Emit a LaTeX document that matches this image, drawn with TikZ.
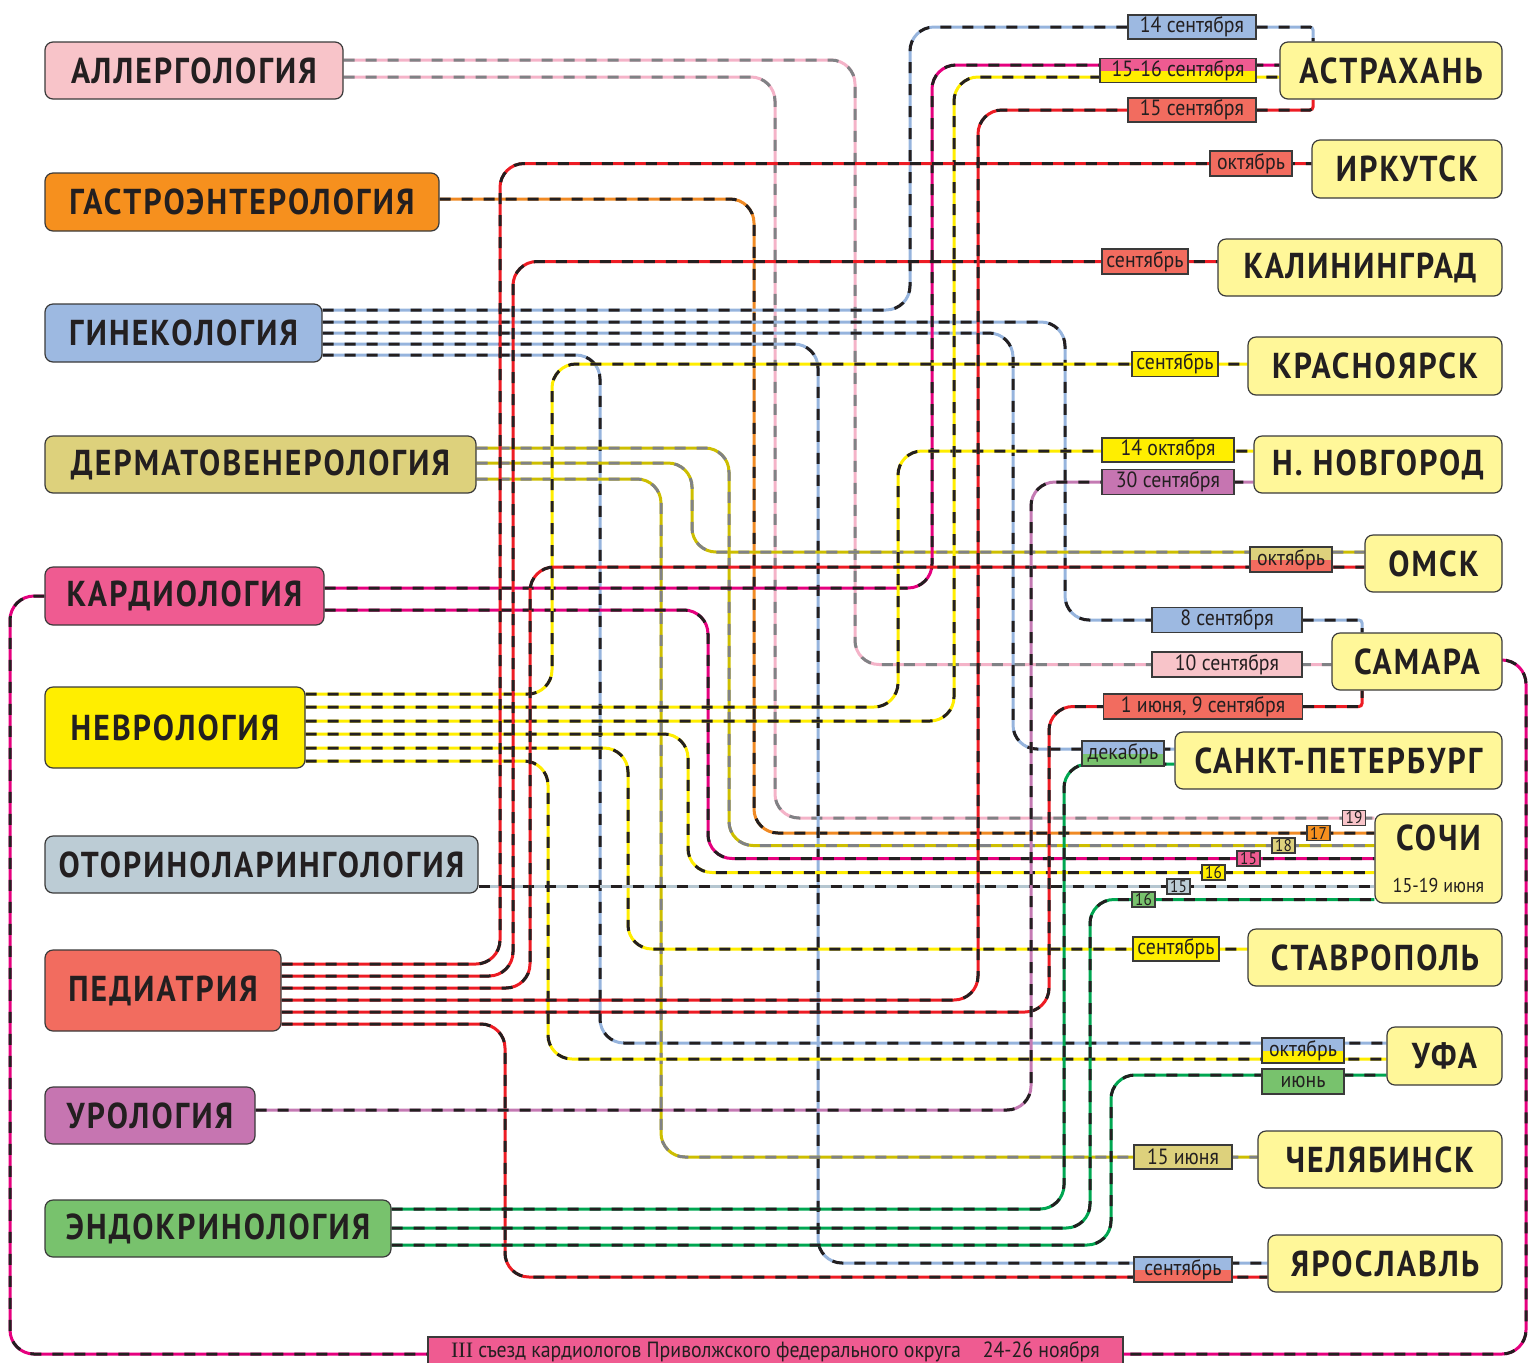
\documentclass[tikz,border=0pt]{standalone}
\usepackage{fontspec}
\setmainfont{PT Sans}
\newfontfamily\headfont[FakeStretch=0.88,LetterSpace=6]{PT Sans}
\newfontfamily\datefont[FakeStretch=0.9]{PT Sans}
\newfontfamily\romfont{Liberation Serif}

\pgfdeclarelayer{bg}
\pgfsetlayers{bg,main}

\definecolor{ink}{HTML}{231F20}
\definecolor{frame}{HTML}{3A3A3A}
\definecolor{cityc}{HTML}{FFF799}
% заливки блоков
\definecolor{cAll}{HTML}{F8C4C9}
\definecolor{cGas}{HTML}{F6901E}
\definecolor{cGyn}{HTML}{9DB9E1}
\definecolor{cDer}{HTML}{DDD17C}
\definecolor{cCar}{HTML}{EF5B91}
\definecolor{cNeu}{HTML}{FFEE00}
\definecolor{cOto}{HTML}{BCCCD5}
\definecolor{cPed}{HTML}{F26C5F}
\definecolor{cUro}{HTML}{C675B1}
\definecolor{cEnd}{HTML}{78C26D}
% цвета линий
\definecolor{lAll}{HTML}{F4B3C8}
\definecolor{lGrey}{HTML}{808285}
\definecolor{lGas}{HTML}{F08A24}
\definecolor{lGyn}{HTML}{96B4DD}
\definecolor{lDer}{HTML}{CDBE00}
\definecolor{lCar}{HTML}{E5007E}
\definecolor{lNeu}{HTML}{FFED00}
\definecolor{lOto}{HTML}{B5C6D0}
\definecolor{lPed}{HTML}{ED1C24}
\definecolor{lUro}{HTML}{C47AB3}
\definecolor{lEnd}{HTML}{00A651}

\begin{document}
\begin{tikzpicture}[x=0.5pt,y=-0.5pt,
  spec/.style={draw=frame,line width=0.6pt,rounded corners=4pt,text=ink,inner sep=0pt,
    font=\headfont\bfseries\fontsize{18}{20}\selectfont},
  city/.style={spec,fill=cityc},
  date/.style={draw=frame,line width=0.7pt,text=ink,inner sep=0pt,
    font=\datefont\fontsize{11}{12}\selectfont},
  num/.style={date,minimum width=11.5pt,minimum height=7.5pt,font=\datefont\fontsize{8.5}{9}\selectfont},
  duo/.style 2 args={path picture={
    \fill[#1] (path picture bounding box.north west) rectangle (path picture bounding box.east);
    \fill[#2] (path picture bounding box.west) rectangle (path picture bounding box.south east);}},
  rt/.style 2 args={draw=#1,line width=1.5pt,rounded corners=12pt,
    postaction={draw=#2,dash pattern=on 5.5pt off 5.5pt}}]
  \useasboundingbox (0,0) rectangle (1528,1362);

  % специальности
  \node[spec,fill=cAll,minimum width=149pt,minimum height=28.5pt] (allerg) at (194,70.5) {АЛЛЕРГОЛОГИЯ};
  \node[spec,fill=cGas,minimum width=197pt,minimum height=29pt] (gastro) at (242,202) {ГАСТРОЭНТЕРОЛОГИЯ};
  \node[spec,fill=cGyn,minimum width=138.5pt,minimum height=29pt] (gyn) at (183.5,333) {ГИНЕКОЛОГИЯ};
  \node[spec,fill=cDer,minimum width=215.5pt,minimum height=28.5pt] (derm) at (260.5,464.5) {ДЕРМАТОВЕНЕРОЛОГИЯ};
  \node[spec,fill=cCar,minimum width=139.5pt,minimum height=29pt] (card) at (184.5,596) {КАРДИОЛОГИЯ};
  \node[spec,fill=cNeu,minimum width=130pt,minimum height=40.5pt] (neuro) at (175,727.5) {НЕВРОЛОГИЯ};
  \node[spec,fill=cOto,minimum width=216.5pt,minimum height=28.5pt] (oto) at (261.5,864.5) {ОТОРИНОЛАРИНГОЛОГИЯ};
  \node[spec,fill=cPed,minimum width=118pt,minimum height=40.5pt] (ped) at (163,990.5) {ПЕДИАТРИЯ};
  \node[spec,fill=cUro,minimum width=105pt,minimum height=28.5pt] (uro) at (150,1115.5) {УРОЛОГИЯ};
  \node[spec,fill=cEnd,minimum width=173pt,minimum height=28.5pt] (endo) at (218,1228.5) {ЭНДОКРИНОЛОГИЯ};

  % города
  \node[city,minimum width=111pt,minimum height=28.5pt] (astr) at (1391,70.5) {АСТРАХАНЬ};
  \node[city,minimum width=95pt,minimum height=29pt] (irk) at (1407,169) {ИРКУТСК};
  \node[city,minimum width=142pt,minimum height=28.5pt] (kal) at (1360,267.5) {КАЛИНИНГРАД};
  \node[city,minimum width=127pt,minimum height=29pt] (kras) at (1375,366) {КРАСНОЯРСК};
  \node[city,minimum width=124pt,minimum height=28.5pt] (nov) at (1378,464.5) {Н. НОВГОРОД};
  \node[city,minimum width=68.5pt,minimum height=28.5pt] (omsk) at (1433.5,563.5) {ОМСК};
  \node[city,minimum width=85pt,minimum height=28.5pt] (sam) at (1417,661.5) {САМАРА};
  \node[city,minimum width=163.5pt,minimum height=28.5pt] (spb) at (1338.5,760.5) {САНКТ-ПЕТЕРБУРГ};
  \node[city,minimum width=63.5pt,minimum height=44.5pt,align=center] (sochi) at (1438.5,858.5)
    {СОЧИ\\[1pt]{\datefont\mdseries\fontsize{10}{12}\selectfont 15-19 июня}};
  \node[city,minimum width=127pt,minimum height=28.5pt] (stav) at (1375,957.5) {СТАВРОПОЛЬ};
  \node[city,minimum width=57.5pt,minimum height=29pt] (ufa) at (1444.5,1056) {УФА};
  \node[city,minimum width=122pt,minimum height=28.5pt] (chel) at (1380,1159.5) {ЧЕЛЯБИНСК};
  \node[city,minimum width=117pt,minimum height=28.5pt] (yar) at (1385,1263.5) {ЯРОСЛАВЛЬ};

  % даты
  \node[date,fill=cGyn,minimum width=64pt,minimum height=12pt] (d14s) at (1192,27) {14 сентября};
  \node[date,duo={cCar}{cNeu},minimum width=78pt,minimum height=12pt] (d1516) at (1178,70.5) {15-16 сентября};
  \node[date,fill=cPed,minimum width=64pt,minimum height=12pt] (d15s) at (1192,110) {15 сентября};
  \node[date,fill=cPed,minimum width=41pt,minimum height=12.5pt] (irkoct) at (1251,163.5) {октябрь};
  \node[date,fill=cPed,minimum width=43pt,minimum height=12.5pt] (kalsep) at (1145,261.5) {сентябрь};
  \node[date,fill=cNeu,minimum width=43pt,minimum height=12.5pt] (krsep) at (1175,364) {сентябрь};
  \node[date,fill=cNeu,minimum width=66pt,minimum height=12pt] (d14o) at (1168,450) {14 октября};
  \node[date,fill=cUro,minimum width=66pt,minimum height=12.5pt] (d30s) at (1168,482) {30 сентября};
  \node[date,duo={cDer}{cPed},minimum width=41pt,minimum height=12.5pt] (omoct) at (1291,559.5) {октябрь};
  \node[date,fill=cGyn,minimum width=75pt,minimum height=12.5pt] (d8s) at (1227,620) {8 сентября};
  \node[date,fill=cAll,minimum width=75pt,minimum height=12.5pt] (d10s) at (1227,664.5) {10 сентября};
  \node[date,fill=cPed,minimum width=99.5pt,minimum height=12.5pt] (d19s) at (1203,706.5) {1 июня, 9 сентября};
  \node[date,duo={cGyn}{cEnd},minimum width=41pt,minimum height=12.5pt] (dec) at (1123,753.5) {декабрь};
  \node[num,fill=cAll] (s19) at (1354,818) {19};
  \node[num,fill=cGas] (s17) at (1318.5,833) {17};
  \node[num,fill=cDer] (s18) at (1283.5,845.5) {18};
  \node[num,fill=cCar] (s15a) at (1248.5,858.5) {15};
  \node[num,fill=cNeu] (s16a) at (1213.5,872.5) {16};
  \node[num,fill=cOto] (s15b) at (1178.5,886.5) {15};
  \node[num,fill=cEnd] (s16b) at (1143.5,899.5) {16};
  \node[date,fill=cNeu,minimum width=43pt,minimum height=12pt] (stsep) at (1176,949) {сентябрь};
  \node[date,duo={cGyn}{cNeu},minimum width=41pt,minimum height=12.5pt] (ufaoct) at (1303,1050.5) {октябрь};
  \node[date,fill=cEnd,minimum width=41pt,minimum height=12.5pt] (ufajun) at (1303,1081.5) {июнь};
  \node[date,fill=cDer,minimum width=49pt,minimum height=12pt] (d15j) at (1183,1157) {15 июня};
  \node[date,duo={cGyn}{cPed},minimum width=49pt,minimum height=12.5pt] (yarsep) at (1183,1269.5) {сентябрь};
  \node[date,fill=cCar,minimum width=347.5pt,minimum height=15pt,font=\datefont\fontsize{11}{13}\selectfont] (congr) at (775.5,1352)
    {{\romfont III} съезд кардиологов Приволжского федерального округа\quad 24-26 ноября};

  \begin{pgfonlayer}{bg}
  % аллергология
  \draw[rt={lAll}{lGrey}] (allerg.east |- 0,60) -| (d10s -| 855,0) -- (sam.west |- d10s);
  \draw[rt={lAll}{lGrey}] (allerg.east |- 0,77) -| (s19 -| 775,0) -- (sochi.west |- s19);
  % гастроэнтерология
  \draw[rt={lGas}{ink}] (gastro.east |- 0,199) -| (s17 -| 754,0) -- (sochi.west |- s17);
  % гинекология
  \draw[rt={lGyn}{ink}] (gyn.east |- 0,310) -| (d14s -| 910,0) -- (d14s) [rounded corners=1.5pt] -| (astr.north -| 1313,0);
  \draw[rt={lGyn}{ink}] (gyn.east |- 0,322) -| (d8s -| 1065,0) -- (d8s) [rounded corners=1.5pt] -| (sam.north -| 1362,0);
  \draw[rt={lGyn}{ink}] (gyn.east |- 0,333) -| (1013,749) -- (spb.west |- 0,749);
  \draw[rt={lGyn}{ink}] (gyn.east |- 0,344) -| (818,1263) -- (yar.west |- 0,1263);
  \draw[rt={lGyn}{ink}] (gyn.east |- 0,355) -| (600,1043) -- (ufa.west |- 0,1043);
  % дерматовенерология
  \draw[rt={lDer}{lGrey}] (derm.east |- 0,448) -| (s18 -| 729,0) -- (sochi.west |- s18);
  \draw[rt={lDer}{lGrey}] (derm.east |- 0,463) -| (692,552) -- (omsk.west |- 0,552);
  \draw[rt={lDer}{lGrey}] (derm.east |- 0,479) -| (d15j -| 661,0) -- (chel.west |- d15j);
  % кардиология
  \draw[rt={lCar}{ink}] (card.east |- 0,588) -| (932,65) -- (astr.west |- 0,65);
  \draw[rt={lCar}{ink}] (card.east |- 0,610) -| (s15a -| 708,0) -- (sochi.west |- s15a);
  \draw[rt={lCar}{ink}] (card.west |- 0,596) -| (10,1354) -| (1526,660) -- (sam.east |- 0,660);
  % неврология
  \draw[rt={lNeu}{ink}] (neuro.east |- 0,694) -| (krsep -| 552,0) -- (kras.west |- krsep);
  \draw[rt={lNeu}{ink}] (neuro.east |- 0,707) -| (898,451) -- (nov.west |- 0,451);
  \draw[rt={lNeu}{ink}] (neuro.east |- 0,721) -| (954,77) -- (astr.west |- 0,77);
  \draw[rt={lNeu}{ink}] (neuro.east |- 0,734) -| (s16a -| 688,0) -- (sochi.west |- s16a);
  \draw[rt={lNeu}{ink}] (neuro.east |- 0,748) -| (stsep -| 628,0) -- (stav.west |- stsep);
  \draw[rt={lNeu}{ink}] (neuro.east |- 0,761) -| (548,1059) -- (ufa.west |- 0,1059);
  % оториноларингология
  \draw[rt={lOto}{ink}] (oto.east |- s15b) -- (sochi.west |- s15b);
  % педиатрия
  \draw[rt={lPed}{ink}] (ped.east |- 0,964) -| (irkoct -| 500,0) -- (irk.west |- irkoct);
  \draw[rt={lPed}{ink}] (ped.east |- 0,976) -| (kalsep -| 513,0) -- (kal.west |- kalsep);
  \draw[rt={lPed}{ink}] (ped.east |- 0,988) -| (530,567) -- (omsk.west |- 0,567);
  \draw[rt={lPed}{ink}] (ped.east |- 0,1000) -| (d15s -| 978,0) -- (d15s) [rounded corners=1.5pt] -| (astr.south -| 1313,0);
  \draw[rt={lPed}{ink}] (ped.east |- 0,1012) -| (d19s -| 1049,0) -- (d19s) [rounded corners=1.5pt] -| (sam.south -| 1362,0);
  \draw[rt={lPed}{ink}] (ped.east |- 0,1024) -| (505,1277) -- (yar.west |- 0,1277);
  % урология
  \draw[rt={lUro}{ink}] (uro.east |- 0,1110) -| (d30s -| 1031,0) -- (nov.west |- d30s);
  % эндокринология
  \draw[rt={lEnd}{ink}] (endo.east |- 0,1209) -| (1064,764) -- (spb.west |- 0,764);
  \draw[rt={lEnd}{ink}] (endo.east |- 0,1228) -| (s16b -| 1090,0) -- (sochi.west |- s16b);
  \draw[rt={lEnd}{ink}] (endo.east |- 0,1245) -| (1111,1075) -- (ufa.west |- 0,1075);
  \end{pgfonlayer}
\end{tikzpicture}
\end{document}
